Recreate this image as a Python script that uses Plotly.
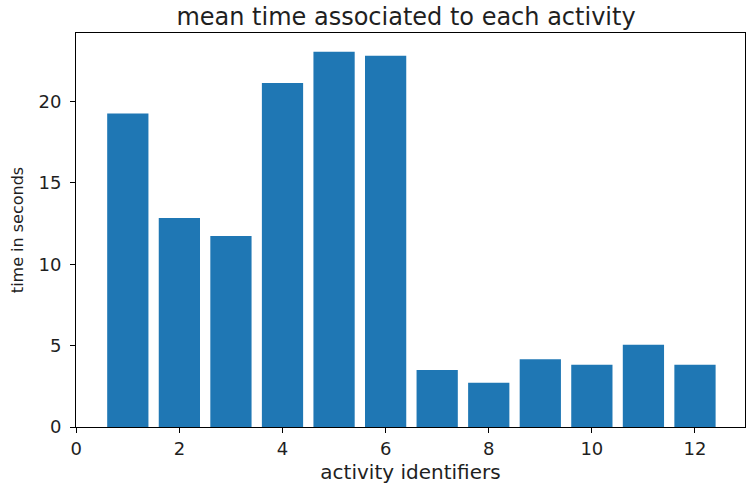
import plotly.graph_objects as go

# Mean duration (seconds) per activity id
activity_ids = [1, 2, 3, 4, 5, 6, 7, 8, 9, 10, 11, 12]
mean_seconds = [19.27, 12.85, 11.74, 21.14, 23.06, 22.82, 3.50, 2.72, 4.16, 3.83, 5.06, 3.83]
x_ticks = [0, 2, 4, 6, 8, 10, 12]
y_ticks = [0, 5, 10, 15, 20]

FONT = "DejaVu Sans"
INK = "#1f1f1f"
TICK_SIZE = 18
XLABEL_SIZE = 20
YLABEL_SIZE = 16
TITLE_SIZE = 24

fig = go.Figure(
    go.Bar(
        x=activity_ids,
        y=mean_seconds,
        width=0.8,
        marker=dict(color="#1f77b4", line=dict(width=0)),
    )
)

fig.update_layout(
    width=747,
    height=484,
    margin=dict(l=76, r=2, t=33, b=57),
    paper_bgcolor="white",
    plot_bgcolor="white",
    showlegend=False,
    font=dict(family=FONT, color=INK, size=TICK_SIZE),
    title=dict(
        text="mean time associated to each activity",
        x=406 / 747,
        xanchor="center",
        xref="container",
        y=1 - 17 / 484,
        yanchor="middle",
        yref="container",
        font=dict(family=FONT, size=TITLE_SIZE, color=INK),
    ),
)

axis_common = dict(
    showgrid=False,
    zeroline=False,
    showline=True,
    linecolor="black",
    linewidth=1,
    mirror=True,
    ticks="outside",
    ticklen=5,
    tickwidth=1,
    tickcolor="black",
    tickfont=dict(family=FONT, size=TICK_SIZE, color=INK),
)

fig.update_xaxes(
    range=[-0.005, 12.97],
    tickmode="array",
    tickvals=x_ticks,
    ticktext=[str(v) for v in x_ticks],
    title=dict(text="activity identifiers", font=dict(family=FONT, size=XLABEL_SIZE, color=INK), standoff=8),
    **axis_common,
)
fig.update_yaxes(
    range=[0, 24.22],
    tickmode="array",
    tickvals=y_ticks,
    ticktext=[str(v) for v in y_ticks],
    ticklabelstandoff=5,
    title=dict(text="time in seconds", font=dict(family=FONT, size=YLABEL_SIZE, color=INK), standoff=10),
    **axis_common,
)

fig.write_html("out.html")
